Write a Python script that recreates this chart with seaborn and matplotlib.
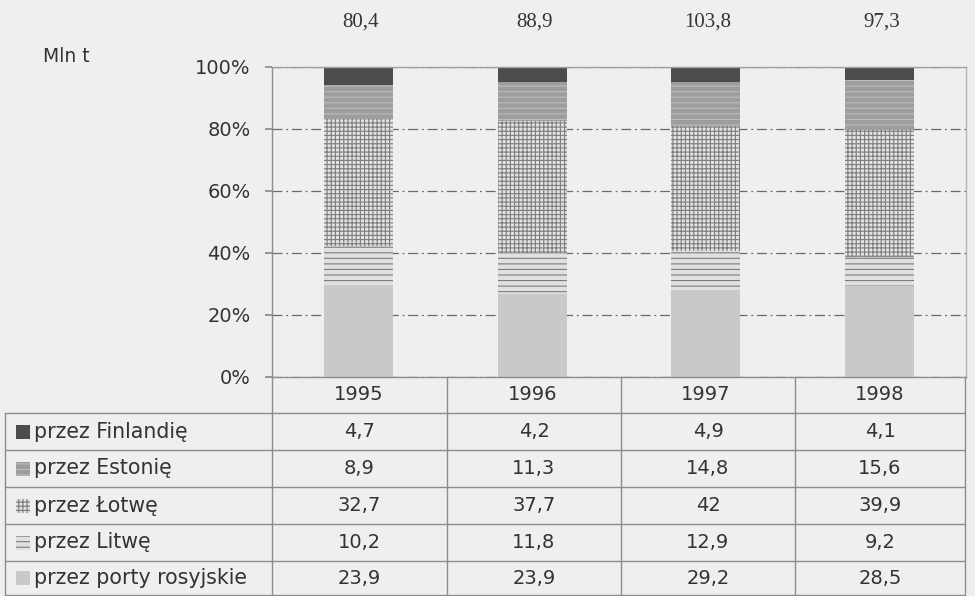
import numpy as np
import pandas as pd
import matplotlib
matplotlib.use("Agg")
import matplotlib.pyplot as plt
import seaborn as sns
from matplotlib.patches import Rectangle
from matplotlib.lines import Line2D

# ---------------- data ----------------
years = ["1995", "1996", "1997", "1998"]
finlandia = [4.7, 4.2, 4.9, 4.1]
estonia = [8.9, 11.3, 14.8, 15.6]
lotwa = [32.7, 37.7, 42.0, 39.9]
litwa = [10.2, 11.8, 12.9, 9.2]
porty = [23.9, 23.9, 29.2, 28.5]
series_names = ["przez Finlandię", "przez Estonię", "przez Łotwę",
                "przez Litwę", "przez porty rosyjskie"]
ytick_labels = ["0%", "20%", "40%", "60%", "80%", "100%"]
unit_label = "Mln t"

# ---------------- styling ----------------
BG = "#efefef"
TXT = "#333333"
LINE = "#8c8c8c"
sns.set_theme(style="white")
plt.rcParams["font.family"] = ["DejaVu Sans"]
plt.rcParams["hatch.linewidth"] = 0.8

W, H = 975, 596
fig = plt.figure(figsize=(W / 100, H / 100), dpi=100, facecolor=BG)


def fx(px):
    return px / W


def fy(py):
    return 1 - py / H


ax_l, ax_r, ax_t, ax_b = 272, 966, 67, 377
ax = fig.add_axes([fx(ax_l), fy(ax_b), fx(ax_r - ax_l), (ax_b - ax_t) / H])
ax.set_facecolor(BG)

# stacked from bottom: porty, litwa, lotwa, estonia, finlandia
stack_order = [("przez porty rosyjskie", porty),
               ("przez Litwę", litwa),
               ("przez Łotwę", lotwa),
               ("przez Estonię", estonia),
               ("przez Finlandię", finlandia)]
styles = {
    "przez porty rosyjskie": dict(fc="#c9c9c9", hatch=None, hc="#c9c9c9"),
    "przez Litwę": dict(fc="#e0e0e0", hatch="---", hc="#7c7c7c"),
    "przez Łotwę": dict(fc="#e2e2e2", hatch="++++", hc="#7e7e7e"),
    "przez Estonię": dict(fc="#9d9d9d", hatch="---", hc="#bcbcbc"),
    "przez Finlandię": dict(fc="#4c4c4c", hatch=None, hc="#4c4c4c"),
}

totals = np.array(finlandia) + np.array(estonia) + np.array(lotwa) + np.array(litwa) + np.array(porty)
cum = np.zeros(4)
rows = []
for name, vals in stack_order:
    cum = cum + np.array(vals)
    for y, c in zip(years, cum):
        rows.append(dict(year=y, series=name, cum=c))
df = pd.DataFrame(rows)
df["pct"] = df["cum"] / df["year"].map(dict(zip(years, totals))) * 100

# draw from top layer down so lower layers overlay
for name, _ in reversed(stack_order):
    sub = df[df["series"] == name]
    st = styles[name]
    sns.barplot(data=sub, x="year", y="pct", order=years, color=st["fc"],
                width=0.4, ax=ax, saturation=1, zorder=2)
    for p in ax.containers[-1]:
        p.set_facecolor(st["fc"])
        p.set_edgecolor(st["hc"])
        p.set_linewidth(0)
        if st["hatch"]:
            p.set_hatch(st["hatch"])

ax.set_xlim(-0.5, 3.5)
ax.set_ylim(0, 100)
ax.set_yticks([0, 20, 40, 60, 80, 100])
ax.set_yticklabels(ytick_labels)
ax.tick_params(axis="y", length=5, color=LINE, pad=10.5, labelsize=14, labelcolor=TXT, left=True)
ax.tick_params(axis="x", length=0, pad=6, labelsize=14, labelcolor=TXT)
ax.set_xlabel("")
ax.set_ylabel("")
ax.yaxis.grid(True, linestyle=(0, (8, 3, 1.5, 3)), color="#6a6a6a", linewidth=0.9, zorder=1)
ax.set_axisbelow(True)
for s in ["left", "bottom", "top", "right"]:
    ax.spines[s].set_visible(True)
    ax.spines[s].set_color(LINE)
    ax.spines[s].set_linewidth(1)
ax.spines["top"].set_color("#a0a0a0")
ax.spines["right"].set_color("#b5b5b5")

# totals above bars (serif)
for i, t in enumerate(totals):
    fig.text(fx(ax_l + (i + 0.5) * (ax_r - ax_l) / 4 + 2), fy(22),
             f"{t:.1f}".replace(".", ","), ha="center", va="center",
             fontsize=15, family="Liberation Serif", color=TXT)

fig.text(fx(43), fy(57), unit_label, ha="left", va="center", fontsize=13.5, color=TXT)

# ---------------- data table ----------------
col_edges = [ax_l, 447, 621, 795, 965]
row_edges = [413, 450, 487, 524, 561, 595]


def hline(y, x0, x1):
    fig.add_artist(Line2D([fx(x0), fx(x1)], [fy(y), fy(y)], color=LINE, lw=1))


def vline(x, y0, y1):
    fig.add_artist(Line2D([fx(x), fx(x)], [fy(y0), fy(y1)], color=LINE, lw=1))


for y in row_edges:
    hline(y, 5, 965)
vline(5, row_edges[0], row_edges[-1])
for x in col_edges:
    vline(x, ax_b, row_edges[-1])

data_by_name = {"przez Finlandię": finlandia, "przez Estonię": estonia,
                "przez Łotwę": lotwa, "przez Litwę": litwa,
                "przez porty rosyjskie": porty}

for r, name in enumerate(series_names):
    yc = (row_edges[r] + row_edges[r + 1]) / 2
    st = styles[name]
    fig.add_artist(Rectangle((fx(16), fy(yc + 7)), fx(14), 14 / H,
                             facecolor=st["fc"], edgecolor=st["hc"],
                             hatch=st["hatch"], linewidth=0))
    fig.text(fx(34), fy(yc), name, ha="left", va="center", fontsize=14.8, color=TXT)
    for c, v in enumerate(data_by_name[name]):
        xc = (col_edges[c] + col_edges[c + 1]) / 2
        fig.text(fx(xc), fy(yc), ("%g" % v).replace(".", ","), ha="center",
                 va="center", fontsize=14, color=TXT)

fig.savefig("out.png", dpi=100, facecolor=BG)
